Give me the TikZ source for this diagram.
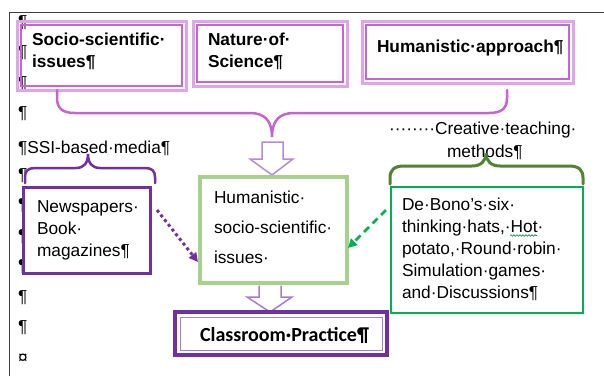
\documentclass[tikz,border=0pt]{standalone}
\usepackage{fontspec}
\setmainfont{Liberation Sans}
\newfontfamily\calibfont{Carlito}
\usetikzlibrary{arrows.meta,calc,decorations.pathmorphing}
\definecolor{orchidL}{RGB}{222,165,232}
\definecolor{orchidD}{RGB}{198,100,212}
\definecolor{bracepink}{RGB}{196,100,208}
\definecolor{hollowA}{RGB}{180,140,212}
\definecolor{dpurple}{RGB}{112,48,160}
\definecolor{lpurple}{RGB}{165,125,205}
\definecolor{lgreen}{RGB}{169,209,142}
\definecolor{mgreen}{RGB}{0,176,80}
\definecolor{olive}{RGB}{84,130,53}
\definecolor{framegray}{RGB}{64,64,64}
\begin{document}
\begin{tikzpicture}[x=1bp,y=-1bp,
  txt/.style={anchor=base west, inner sep=0, outer sep=0, font=\fontsize{17.3bp}{22bp}\selectfont},
  btxt/.style={anchor=base west, inner sep=0, outer sep=0, font=\fontsize{17.3bp}{22bp}\selectfont\bfseries},
  ctxt/.style={anchor=base west, inner sep=0, outer sep=0, font=\fontsize{20bp}{24bp}\calibfont\bfseries},
  box/.style={anchor=north west, inner sep=0, outer sep=0},
  topbox/.style={box, draw=orchidL, line width=3bp},
  hollow/.style={draw=hollowA, fill=white, line width=1.5bp, line join=miter},
  bracestyle/.style={line width=2.5bp, line cap=round}
]
\useasboundingbox (0,0) rectangle (604,376);
\fill[white] (0,0) rectangle (604,376);
\draw[line width=1bp, framegray] (9,376) -- (9,12) -- (604,12);

% paragraph marks on the left
\node[txt] (p1) at (18,27) {¶};
\node[txt] (p2) at (18,57.5) {¶};
\node[txt] (p3) at (18,88) {¶};
\node[txt] (p4) at (18,118.5) {¶};
\node[txt] (ssi) at (18,153) {¶SSI-based·media¶};
\node[txt] (p5) at (18,180) {¶};
\node[txt] (p6) at (18,210.5) {¶};
\node[txt] (p7) at (18,241) {¶};
\node[txt] (p8) at (18,271.5) {¶};
\node[txt] (p9) at (18,302) {¶};
\node[txt] (p10) at (18,332.5) {¶};
\node[txt] (p11) at (18,363) {¤};

% top boxes
\node[topbox, minimum width=169bp, minimum height=69bp] (socio) at (17,21) {};
\draw[orchidD, line width=1.2bp] ($(socio.north west)+(4,4)$) rectangle ($(socio.south east)+(-4,-4)$);
\node[topbox, minimum width=154bp, minimum height=65bp] (nature) at (193,21) {};
\draw[orchidD, line width=1.2bp] ($(nature.north west)+(4,4)$) rectangle ($(nature.south east)+(-4,-4)$);
\node[topbox, minimum width=211bp, minimum height=62bp] (humapp) at (362,21) {};
\draw[orchidD, line width=1.2bp] ($(humapp.north west)+(4,4)$) rectangle ($(humapp.south east)+(-4,-4)$);

\node[btxt] (socioA) at (32,45) {Socio-scientific·};
\node[btxt] (socioB) at (32,67) {issues¶};
\node[btxt] (natureA) at (208,45) {Nature·of·};
\node[btxt] (natureB) at (208,67) {Science¶};
\node[btxt] (humappA) at (377,52) {Humanistic·approach¶};

% top brace
\draw[bracepink, bracestyle] (57,90) -- (57,98) .. controls (57,108) and (62,113) .. (75,113) -- (250,113)
  .. controls (264,113) and (272,120) .. (272,137) .. controls (272,120) and (280,113) .. (294,113)
  -- (489,113) .. controls (502,113) and (507,108) .. (507,98) -- (507,90);

% hollow arrow 1
\draw[hollow] (262,142) -- (283,142) -- (283,159) -- (293,159) -- (272,175) -- (250,159) -- (262,159) -- cycle;

% creative teaching label
\node[txt] (creaA) at (389,134) {········Creative·teaching·};
\node[txt] (creaB) at (447,157) {methods¶};

% SSI brace
\draw[dpurple, bracestyle] (25,183) -- (25,177) .. controls (25,171) and (28,168) .. (35,168) -- (76,168)
  .. controls (84,168) and (88,163) .. (88,154) .. controls (88,163) and (92,168) .. (100,168)
  -- (145,168) .. controls (152,168) and (155,171) .. (155,177) -- (155,183);

% green brace
\draw[olive, bracestyle, line width=3bp] (390,184) -- (390,178) .. controls (390,170) and (394,166) .. (404,166) -- (472,166)
  .. controls (481,166) and (486,161) .. (486,153) .. controls (486,161) and (491,166) .. (500,166)
  -- (569,166) .. controls (579,166) and (583,170) .. (583,178) -- (583,184);

% Newspapers box
\node[box, draw=dpurple, line width=3bp, fill=white, minimum width=127bp, minimum height=86bp] (news) at (23,187) {};
\node[txt] (newsA) at (37,212) {Newspapers·};
\node[txt] (newsB) at (37,234) {Book·};
\node[txt] (newsC) at (37,256) {magazines¶};

% central green box
\node[box, draw=lgreen, line width=3.5bp, minimum width=147bp, minimum height=106bp] (hsi) at (200,177) {};
\node[txt] (hsiA) at (214,203) {Humanistic·};
\node[txt] (hsiB) at (214,233) {socio-scientific·};
\node[txt] (hsiC) at (214,263) {issues·};

% creative methods box
\node[box, draw=mgreen, line width=1.5bp, minimum width=192bp, minimum height=126bp] (creative) at (391,187) {};
\node[txt] (crA) at (402,210) {De·Bono’s·six·};
\node[txt] (crB) at (402,232) {thinking·hats,·Hot·};
\node[txt] (crC) at (402,254) {potato,·Round·robin·};
\node[txt] (crD) at (402,276) {Simulation·games·};
\node[txt] (crE) at (402,298) {and·Discussions¶};
\draw[mgreen!70!black, line width=0.6bp, decorate, decoration={snake, amplitude=0.8bp, segment length=3bp}] (510,235.5) -- (537,235.5);

% hollow arrow 2
\draw[hollow, draw=lpurple] (259,285.5) -- (259,297) -- (247,297) -- (270,312) -- (292,297) -- (281,297) -- (281,285.5);

% Classroom practice box
\node[box, draw=dpurple, line width=3.5bp, fill=white, minimum width=212bp, minimum height=43bp] (class) at (175,312) {};
\draw[lpurple, line width=1bp] ($(class.north west)+(5,5)$) rectangle ($(class.south east)+(-5,-5)$);
\node[ctxt] (classA) at (200,341) {Classroom·Practice¶};

% connectors
\draw[dpurple, line width=3bp, dash pattern=on 3bp off 3bp, -{Triangle[length=9bp,width=9bp]}]
  ($(news.north east)+(7,23)$) -- ($(hsi.south west)+(-2,-21)$);
\draw[mgreen, line width=2.5bp, dash pattern=on 7bp off 5bp, -{Triangle[length=9bp,width=9bp]}]
  ($(creative.north west)+(-5,23)$) -- ($(hsi.north east)+(1,71)$);
\end{tikzpicture}
\end{document}
